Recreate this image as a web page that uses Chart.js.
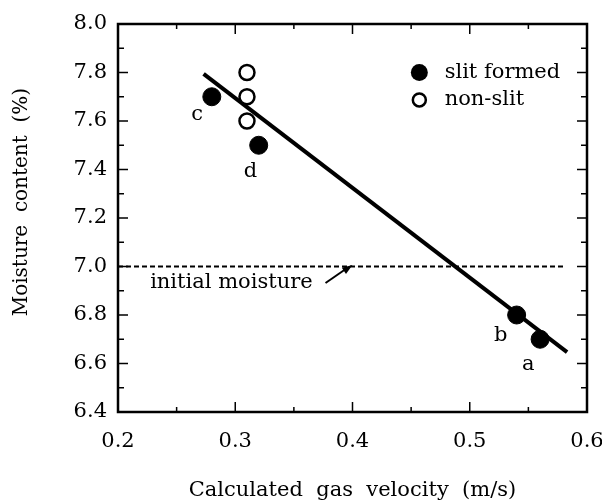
<!DOCTYPE html>
<html>
<head>
<meta charset="utf-8">
<script src="https://cdn.jsdelivr.net/npm/chart.js@4.4.0/dist/chart.umd.min.js"></script>
<style>
  html, body { margin: 0; padding: 0; background: #fff; }
  #wrap { width: 602px; height: 503px; }
</style>
</head>
<body>
<div id="wrap"><canvas id="my_chart" width="602" height="503"></canvas></div>
<script>
// measured points
var slitX = [0.28, 0.32, 0.54, 0.56]
var slitY = [7.70, 7.50, 6.80, 6.70]
var slitLabels = ['c', 'd', 'b', 'a']
var nonSlitX = [0.31, 0.31, 0.31]
var nonSlitY = [7.80, 7.70, 7.60]
// fitted line end points
var fitX = [0.273, 0.583]
var fitY = [7.794, 6.647]
// initial moisture level
var initX = [0.2, 0.58]
var initY = [7.0, 7.0]
var xTicks = [0.2, 0.3, 0.4, 0.5, 0.6]
var yTicks = [6.4, 6.6, 6.8, 7.0, 7.2, 7.4, 7.6, 7.8, 8.0]

var serif = "'DejaVu Serif', 'Liberation Serif', serif"

function pts(xs, ys) {
    return xs.map((x, i) => ({x: x, y: ys[i]}))
}

// frame and inward ticks
var framePlugin = {
    id: 'frame',
    afterDatasetsDraw(chart) {
        var ctx = chart.ctx
        var a = chart.chartArea
        var xs = chart.scales.x, ys = chart.scales.y
        ctx.save()
        ctx.strokeStyle = '#000'
        ctx.lineWidth = 1.5
        for (var v = 0.25; v < 0.6; v += 0.05) {
            var px = xs.getPixelForValue(v)
            var major = Math.abs(v * 10 - Math.round(v * 10)) < 0.01
            var len = major ? 10 : 5
            ctx.beginPath()
            ctx.moveTo(px, a.bottom); ctx.lineTo(px, a.bottom - len)
            ctx.moveTo(px, a.top); ctx.lineTo(px, a.top + len)
            ctx.stroke()
        }
        for (var k = 1; k < 16; k++) {
            var val = 6.4 + k * 0.1
            var py = ys.getPixelForValue(val)
            var len2 = (k % 2 == 0) ? 10 : 6
            ctx.beginPath()
            ctx.moveTo(a.left, py); ctx.lineTo(a.left + len2, py)
            ctx.moveTo(a.right, py); ctx.lineTo(a.right - len2, py)
            ctx.stroke()
        }
        ctx.lineWidth = 2.5
        ctx.strokeRect(a.left, a.top, a.right - a.left, a.bottom - a.top)
        ctx.restore()
    }
}

// point letters, note, arrow, legend
var notesPlugin = {
    id: 'notes',
    afterDraw(chart) {
        var ctx = chart.ctx
        var xs = chart.scales.x, ys = chart.scales.y
        var X = v => xs.getPixelForValue(v)
        var Y = v => ys.getPixelForValue(v)
        ctx.save()
        ctx.fillStyle = '#000'
        ctx.font = '21px ' + serif
        ctx.textAlign = 'center'
        ctx.textBaseline = 'middle'
        var lp = [[0.2675, 7.625], [0.313, 7.39], [0.5265, 6.717], [0.55, 6.594]]
        slitLabels.forEach((t, i) => ctx.fillText(t, X(lp[i][0]), Y(lp[i][1])))

        ctx.textAlign = 'left'
        ctx.font = '21px ' + serif
        ctx.fillText('initial moisture', X(0.2274), Y(6.932))
        // arrow
        var x1 = X(0.377), y1 = Y(6.932), x2 = X(0.4), y2 = Y(7.006)
        ctx.strokeStyle = '#000'
        ctx.lineWidth = 2
        ctx.beginPath(); ctx.moveTo(x1, y1); ctx.lineTo(x2 - 6, y2 + 3.5); ctx.stroke()
        var ang = Math.atan2(y2 - y1, x2 - x1)
        ctx.beginPath()
        ctx.moveTo(x2, y2)
        ctx.lineTo(x2 - 11 * Math.cos(ang - 0.35), y2 - 11 * Math.sin(ang - 0.35))
        ctx.lineTo(x2 - 11 * Math.cos(ang + 0.35), y2 - 11 * Math.sin(ang + 0.35))
        ctx.closePath(); ctx.fill()

        // legend
        var lx = X(0.457)
        ctx.beginPath(); ctx.arc(lx, Y(7.8), 8.5, 0, 2 * Math.PI); ctx.fill()
        ctx.beginPath(); ctx.arc(lx, Y(7.687), 6.5, 0, 2 * Math.PI)
        ctx.lineWidth = 2.5; ctx.stroke()
        ctx.font = '21px ' + serif
        ctx.fillText('slit formed', X(0.4786), Y(7.8))
        ctx.fillText('non-slit', X(0.4786), Y(7.69))
        ctx.restore()
    }
}

ctx = document.getElementById("my_chart");
my_chart = new Chart(ctx, {
    type: 'scatter',
    data: {
        datasets: [
            {
                label: 'slit formed',
                data: pts(slitX, slitY),
                pointRadius: 9,
                pointHoverRadius: 9,
                backgroundColor: '#000',
                borderColor: '#000',
                borderWidth: 1
            },
            {
                label: 'non-slit',
                data: pts(nonSlitX, nonSlitY),
                pointRadius: 7.5,
                pointHoverRadius: 7.5,
                backgroundColor: '#fff',
                borderColor: '#000',
                borderWidth: 2.5
            },
            {
                label: 'fit',
                data: pts(fitX, fitY),
                showLine: true,
                pointRadius: 0,
                borderColor: '#000',
                borderWidth: 4
            },
            {
                label: 'initial moisture',
                data: pts(initX, initY),
                showLine: true,
                pointRadius: 0,
                borderColor: '#000',
                borderWidth: 2.2,
                borderDash: [5, 3]
            }
        ]
    },
    options: {
        responsive: false,
        animation: false,
        layout: { padding: { top: 24, right: 15, left: 0, bottom: 0 } },
        plugins: {
            legend: { display: false },
            tooltip: { enabled: false }
        },
        scales: {
            x: {
                type: 'linear',
                min: 0.2, max: 0.6,
                afterFit(s) { s.height = 91; s.paddingLeft = 0; s.paddingRight = 0 },
                afterBuildTicks(s) { s.ticks = xTicks.map(v => ({value: v})) },
                grid: { display: false, drawTicks: false },
                border: { display: false },
                ticks: {
                    color: '#000', padding: 17,
                    font: { family: serif, size: 21 },
                    callback: v => v.toFixed(1)
                },
                title: {
                    display: true,
                    text: 'Calculated  gas  velocity  (m/s)',
                    color: '#000',
                    font: { family: serif, size: 21 },
                    padding: { top: 0, bottom: 0 }
                }
            },
            y: {
                type: 'linear',
                min: 6.4, max: 8.0,
                afterFit(s) { s.width = 118; s.paddingTop = 0; s.paddingBottom = 0 },
                afterBuildTicks(s) { s.ticks = yTicks.map(v => ({value: v})) },
                grid: { display: false, drawTicks: false },
                border: { display: false },
                ticks: {
                    color: '#000', padding: 11,
                    font: { family: serif, size: 21 },
                    callback: v => v.toFixed(1)
                },
                title: {
                    display: true,
                    text: '     Moisture  content  (%)',
                    color: '#000',
                    font: { family: serif, size: 20 },
                    padding: { top: 10, bottom: 0 }
                }
            }
        }
    },
    plugins: [framePlugin, notesPlugin]
});
</script>
</body>
</html>
